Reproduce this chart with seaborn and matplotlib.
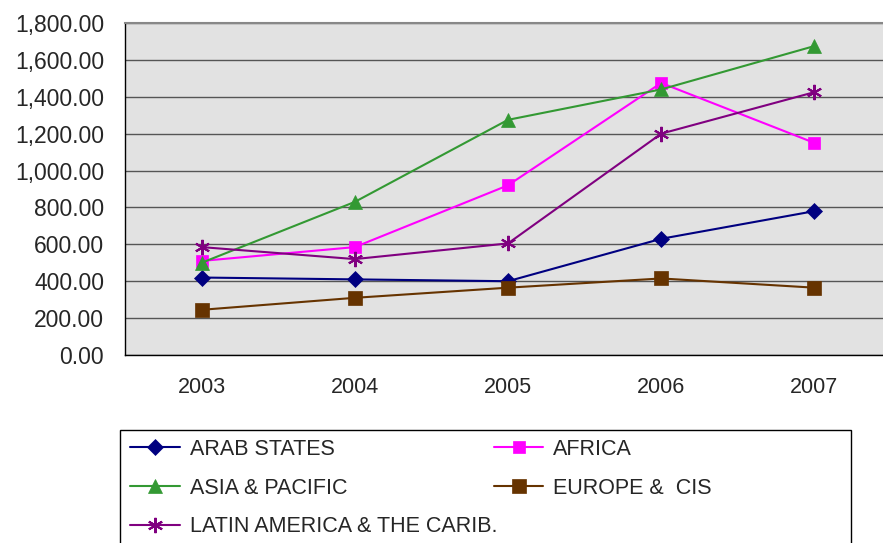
import pandas as pd
import matplotlib.pyplot as plt
import matplotlib.patches as mpatches
import seaborn as sns

years = ["2003", "2004", "2005", "2006", "2007"]
arab_states = [420, 410, 400, 630, 780]
africa = [510, 585, 920, 1475, 1150]
asia_pacific = [500, 830, 1275, 1440, 1675]
europe_cis = [245, 310, 365, 415, 365]
latin_america = [585, 520, 605, 1200, 1425]

series = {
    "ARAB STATES": arab_states,
    "AFRICA": africa,
    "ASIA & PACIFIC": asia_pacific,
    "EUROPE &  CIS": europe_cis,
    "LATIN AMERICA & THE CARIB.": latin_america,
}
colors = ["#000080", "#ff00ff", "#339933", "#663300", "#800080"]
markers = ["D", "s", "^", "s", (6, 2, 0)]
sizes = [8.5, 8.5, 9.5, 10.5, 11]


def main():
    rows = []
    for name, vals in series.items():
        for i, v in enumerate(vals):
            rows.append({"region": name, "pos": i, "value": v})
    df = pd.DataFrame(rows)

    sns.set_style("white")
    plt.rcParams["font.family"] = ["Liberation Sans", "DejaVu Sans"]

    fig = plt.figure(figsize=(8.83, 5.43), dpi=100)
    W, H = 883, 543
    ax = fig.add_axes([125 / W, 1 - 355 / H, (891 - 125) / W, (355 - 23) / H])
    ax.set_facecolor("#e2e2e2")

    for (name, vals), c, m, s in zip(series.items(), colors, markers, sizes):
        sub = df[df["region"] == name]
        sns.lineplot(data=sub, x="pos", y="value", ax=ax, color=c, marker=m,
                     markersize=s, markeredgecolor=c,
                     markeredgewidth=1.5 if m == (6, 2, 0) else 0.5,
                     linewidth=1.5, label=name, legend=False)

    ax.set_xlim(-0.5, 4.5)
    ax.set_ylim(0, 1800)
    ax.set_yticks(range(0, 1801, 200))
    ax.set_yticklabels([f"{v:,.2f}" for v in range(0, 1801, 200)], fontsize=16.5)
    ax.set_xticks(range(5))
    ax.set_xticklabels(years, fontsize=15.5)
    ax.set_xticks([-0.5, 0.5, 1.5, 2.5, 3.5, 4.5], minor=True)
    ax.tick_params(axis="x", which="major", length=0, pad=16)
    ax.tick_params(axis="x", which="minor", length=6, direction="out", color="#333333")
    ax.tick_params(axis="y", length=6, direction="out", color="#333333", pad=9)
    ax.yaxis.grid(True, color="#555555", linewidth=1)
    ax.set_axisbelow(True)
    ax.set_xlabel("")
    ax.set_ylabel("")
    for side in ["left", "bottom"]:
        ax.spines[side].set_color("#000000")
        ax.spines[side].set_linewidth(1)
    ax.spines["top"].set_color("#888888")
    ax.spines["top"].set_linewidth(1.5)
    ax.spines["right"].set_visible(False)

    # legend frame, cut off at the bottom like the source
    fig.patches.append(mpatches.Rectangle((120 / W, -0.05), (851 - 120) / W, 1 - 430 / H + 0.05,
                                          transform=fig.transFigure, fill=False,
                                          edgecolor="#000000", linewidth=1))
    handles, labels = ax.get_legend_handles_labels()
    order = [0, 2, 4, 1, 3]
    top = 1 - 439 / H
    fig.legend([handles[i] for i in order], [labels[i] for i in order],
               loc="upper left", bbox_to_anchor=(130 / W, top - 0.1, 582 / W, 0.1),
               ncol=2, mode="expand", frameon=False, borderpad=0, borderaxespad=0,
               handlelength=2.3, handletextpad=0.47, labelspacing=0.82,
               prop={"family": "Liberation Sans", "size": 15.5})

    plt.savefig("out.png", dpi=100)
    plt.close()


if __name__ == "__main__":
    main()
